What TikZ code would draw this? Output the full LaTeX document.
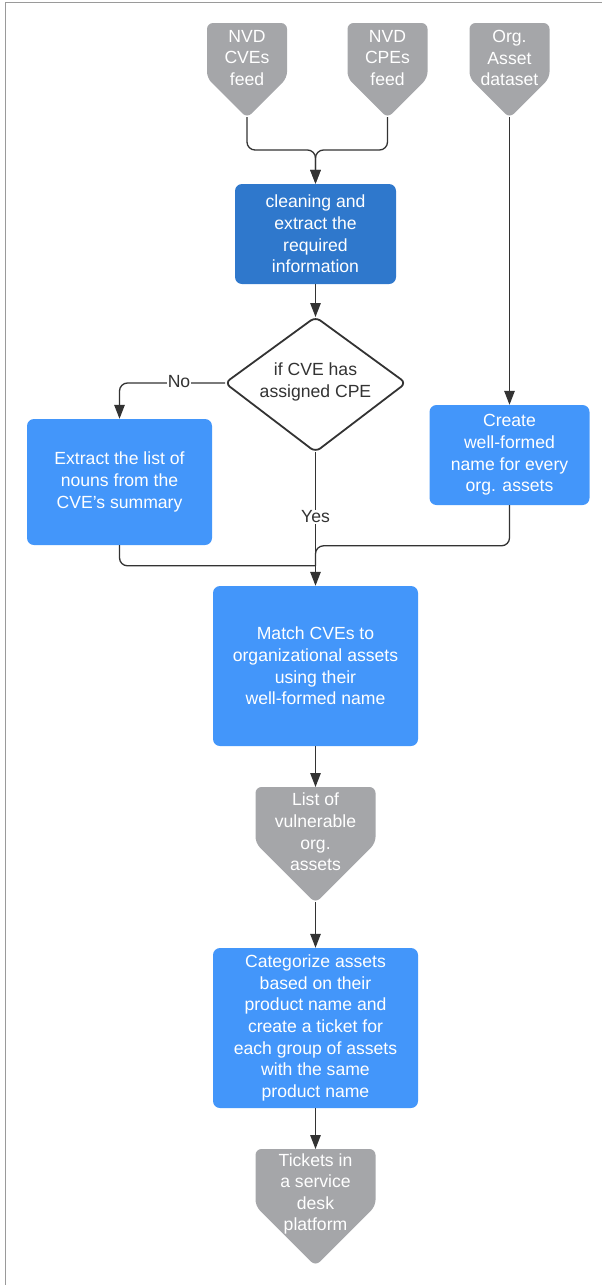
\documentclass[tikz,border=0pt]{standalone}
\usepackage{fontspec}
\setmainfont{Liberation Sans}
\usetikzlibrary{arrows.meta}
\definecolor{gshape}{HTML}{A5A6A9}
\definecolor{lblue}{HTML}{4396FA}
\definecolor{dblue}{HTML}{2F78CC}
\definecolor{lnc}{HTML}{333333}
\definecolor{frame}{HTML}{9A9A9A}
\newcommand\fsz{\fontsize{17.6}{21.6}\selectfont}
\begin{document}
\begin{tikzpicture}[x=1pt,y=-1pt,
  conn/.style={draw=lnc,line width=1.3pt,rounded corners=8pt},
  arr/.style={conn,-{Triangle[length=14pt,width=10.5pt]}},
  bbox/.style={fill=lblue,rounded corners=7pt,text=white,align=center,font=\fsz,inner sep=0pt},
  gtext/.style={text=white,align=center,font=\fsz,inner sep=0pt},
  gshp/.style={fill=gshape,rounded corners=6pt},
  lbl/.style={fill=white,text=lnc,font=\fsz,inner sep=1pt}]
\useasboundingbox (0,0) rectangle (602,1285);
\draw[frame,line width=1pt] (5,1285) -- (5,2) -- (602,2);

% source shapes
\fill[gshp] (247,23) -- (287,23) -- (287,78) -- (247,118) -- (207,78) -- (207,23) -- cycle;
\coordinate (cvetip) at (247,117);
\node[gtext] (cvetxt) at (247,58) {NVD\\CVEs\\feed};

\fill[gshp] (387.5,23) -- (427.5,23) -- (427.5,78) -- (387.5,118) -- (347.5,78) -- (347.5,23) -- cycle;
\coordinate (cpetip) at (387.5,117);
\node[gtext] (cpetxt) at (387.5,58) {NVD\\CPEs\\feed};

\fill[gshp] (509.5,23) -- (549.5,23) -- (549.5,78) -- (509.5,118) -- (469.5,78) -- (469.5,23) -- cycle;
\coordinate (orgtip) at (509.5,117);
\node[gtext] (orgtxt) at (509.5,58) {Org.\\Asset\\dataset};

% cleaning box
\node[bbox,fill=dblue,minimum width=161pt,minimum height=100pt] (clean) at (315.5,234) {cleaning and\\extract the\\required\\information};

% diamond
\coordinate (dtop) at (315.5,317);
\coordinate (dleft) at (225,383);
\coordinate (dright) at (406,383);
\coordinate (dbot) at (315.5,452);
\draw[draw=lnc,line width=1.8pt,rounded corners=6pt,fill=white] (315.5,317) -- (406,383) -- (315.5,452) -- (225,383) -- cycle;
\node[text=lnc,align=center,font=\fsz,inner sep=0pt] (dtxt) at (315.5,382) {if CVE has\\assigned CPE};

% side boxes
\node[bbox,minimum width=185pt,minimum height=126pt] (left) at (119.5,482) {Extract the list of\\nouns from the\\CVE's summary};
\node[bbox,minimum width=160pt,minimum height=100pt] (right) at (509.5,455) {Create\\well-formed\\name for every\\org. assets};

% match box
\node[bbox,minimum width=205pt,minimum height=160pt] (match) at (315.5,666) {Match CVEs to\\organizational assets\\using their\\well-formed name};

% list shape
\fill[gshp] (315.5,787) -- (375.5,787) -- (375.5,843) -- (315.5,903) -- (255.5,843) -- (255.5,787) -- cycle;
\coordinate (listtop) at (315.5,787);
\coordinate (listtip) at (315.5,902);
\node[gtext] (listtxt) at (315.5,832) {List of\\vulnerable\\org.\\assets};

% categorize
\node[bbox,minimum width=205pt,minimum height=160pt] (cat) at (315.5,1028) {Categorize assets\\based on their\\product name and\\create a ticket for\\each group of assets\\with the same\\product name};

% tickets
\fill[gshp] (315.5,1149) -- (375.5,1149) -- (375.5,1206) -- (315.5,1266) -- (255.5,1206) -- (255.5,1149) -- cycle;
\coordinate (tktop) at (315.5,1149);
\node[gtext] (tktxt) at (315.5,1194) {Tickets in\\a service\\desk\\platform};

% connectors
\draw[arr] (cvetip) -- ++(0,33) -| (clean.north);
\draw[arr] (cpetip) -- ++(0,33) -| (clean.north);
\draw[arr] (clean.south) -- (dtop);
\draw[arr] (dleft) -| (left.north);
\node[lbl] (no) at (179,382) {No};
\draw[arr] (orgtip) -- (right.north);
\draw[arr] (dbot) -- (match.north);
\node[lbl] (yes) at (315.5,517) {Yes};
\draw[conn] (left.south) |- ([yshift=20pt]match.north);
\draw[conn] (right.south) |- ([yshift=40pt]match.north) -- ([yshift=20pt]match.north);
\draw[arr] (match.south) -- (listtop);
\draw[arr] (listtip) -- (cat.north);
\draw[arr] (cat.south) -- (tktop);
\end{tikzpicture}
\end{document}
